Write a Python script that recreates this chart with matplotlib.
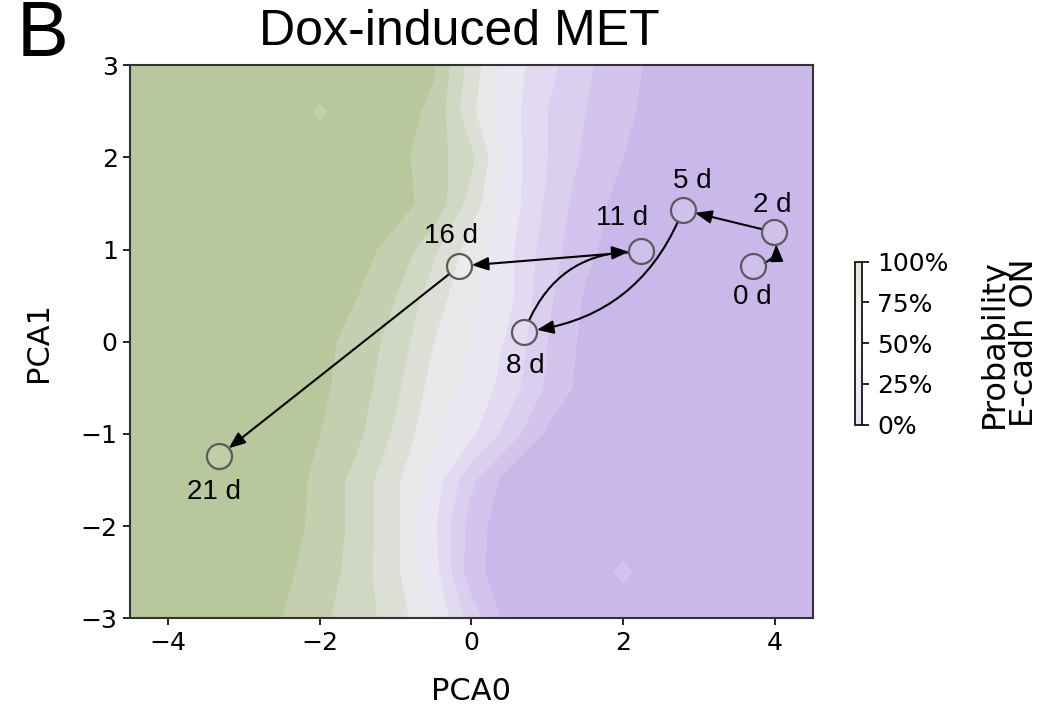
# PCA trajectory over a probability landscape
import numpy as np
import matplotlib
matplotlib.use("Agg")
import matplotlib.pyplot as plt
from matplotlib.colors import LinearSegmentedColormap

# probability (%) that E-cadh is ON on a 0.5 grid
pca0_grid = [-4.5, -4.0, -3.5, -3.0, -2.5, -2.0, -1.5, -1.0, -0.5, 0.0,
             0.5, 1.0, 1.5, 2.0, 2.5, 3.0, 3.5, 4.0, 4.5]
pca1_grid = [-3.0, -2.5, -2.0, -1.5, -1.0, -0.5, 0.0, 0.5, 1.0, 1.5, 2.0, 2.5, 3.0]
prob_on = [
    [100, 100, 100, 96, 90, 82, 75, 65, 50, 25, 5, 0, 0, 0, 0, 0, 0, 0, 0],    # y=-3
    [100, 100, 100, 98, 92, 86, 75, 62, 44, 14, 3, 0, 0, 13, 0, 0, 0, 0, 0],   # y=-2.5
    [100, 100, 100, 98, 93, 88, 76, 62, 42, 15, 3, 0, 0, 0, 0, 0, 0, 0, 0],    # y=-2
    [100, 100, 100, 98, 94, 88, 76, 62, 45, 22, 5, 1, 0, 0, 0, 0, 0, 0, 0],    # y=-1.5
    [100, 100, 100, 100, 95, 90, 82, 68, 52, 42, 25, 8, 3, 0, 0, 0, 0, 0, 0],  # y=-1
    [100, 100, 100, 100, 97, 92, 85, 72, 56, 47, 35, 18, 6, 0, 0, 0, 0, 0, 0], # y=-0.5
    [100, 100, 100, 100, 98, 93, 86, 76, 60, 50, 38, 20, 7, 2, 0, 0, 0, 0, 0], # y=0
    [100, 100, 100, 100, 98, 95, 90, 80, 65, 52, 42, 22, 9, 3, 0, 0, 0, 0, 0], # y=0.5
    [100, 100, 100, 100, 99, 96, 92, 88, 72, 55, 42, 25, 12, 6, 2, 0, 0, 0, 0],   # y=1
    [100, 100, 100, 100, 100, 98, 95, 92, 88, 65, 45, 28, 14, 7, 3, 0, 0, 0, 0],  # y=1.5
    [100, 100, 100, 100, 98, 97, 96, 93, 85, 72, 45, 30, 18, 10, 5, 2, 0, 0, 0],  # y=2
    [100, 100, 100, 100, 98, 88, 96, 94, 88, 62, 44, 30, 20, 12, 6, 3, 1, 0, 0],  # y=2.5
    [100, 100, 100, 100, 100, 98, 96, 95, 91, 65, 45, 33, 22, 13, 7, 4, 3, 2, 0], # y=3
]

# time points of the trajectory
day_labels = ["0 d", "2 d", "5 d", "8 d", "11 d", "16 d", "21 d"]
day_pca0 = [3.71, 3.99, 2.79, 0.70, 2.24, -0.16, -3.33]
day_pca1 = [0.82, 1.19, 1.43, 0.11, 0.98, 0.82, -1.24]

# label offsets (points) for each day
label_dx = [0, -1.5, 7, 0.7, -14, -6, -3.5]
label_dy = [-22, 19.5, 21, -25, 24, 21.5, -26]

# arrows: from index, to index, curvature
arrow_from = [0, 1, 2, 3, 4, 5]
arrow_to = [1, 2, 3, 4, 5, 6]
arrow_rad = [0.6, 0.0, -0.3, -0.35, 0.0, 0.0]

cmap = LinearSegmentedColormap.from_list(
    "ecadh", ["#c6b3e9", "#eeebf3", "#b3c393"])

fig = plt.figure(figsize=(10.58, 7.09), dpi=100)
ax = fig.add_axes([0.123, 0.128, 0.645, 0.780])

X, Y = np.meshgrid(pca0_grid, pca1_grid)
levels = np.linspace(0, 100, 11)
cs = ax.contourf(X, Y, np.array(prob_on), levels=levels, cmap=cmap)

ax.scatter(day_pca0, day_pca1, s=324, facecolors=(1, 1, 1, 0.12),
           edgecolors="#5a5a5a", linewidths=1.6, zorder=4)

for i, j, r in zip(arrow_from, arrow_to, arrow_rad):
    ax.annotate("", xy=(day_pca0[j], day_pca1[j]), xytext=(day_pca0[i], day_pca1[i]),
                arrowprops=dict(arrowstyle="-|>,head_length=0.5,head_width=0.2",
                                color="black", lw=1.5,
                                mutation_scale=20, shrinkA=9, shrinkB=9,
                                connectionstyle="arc3,rad=%s" % r),
                zorder=3)

for k in range(len(day_labels)):
    ax.annotate(day_labels[k], (day_pca0[k], day_pca1[k]),
                xytext=(label_dx[k], label_dy[k]), textcoords="offset points",
                ha="center", va="center", fontsize=20, family="Liberation Sans")

ax.set_xlim(-4.5, 4.5)
ax.set_ylim(-3, 3)
ax.set_xticks([-4, -2, 0, 2, 4])
ax.set_yticks([-3, -2, -1, 0, 1, 2, 3])
ax.tick_params(labelsize=18, length=5, width=1.2, pad=4)
ax.set_xlabel("PCA0", fontsize=22, labelpad=16)
ax.set_ylabel("PCA1", fontsize=22, labelpad=20)
for s in ax.spines.values():
    s.set_linewidth(1.5)
    s.set_color("#333333")

# colorbar
cax = fig.add_axes([0.808, 0.401, 0.0066, 0.230])
sm = plt.cm.ScalarMappable(cmap=cmap, norm=plt.Normalize(0, 100))
cb = fig.colorbar(sm, cax=cax, ticks=[0, 25, 50, 75, 100])
cb.solids.set_alpha(0.4)
cb.ax.set_yticklabels(["0%", "25%", "50%", "75%", "100%"])
cb.ax.tick_params(labelsize=18, length=5, width=1.2, pad=6)
cb.outline.set_linewidth(1.2)
cb.set_label("Probability\nE-cadh ON", fontsize=23, labelpad=22, linespacing=0.95)

fig.text(0.434, 0.937, "Dox-induced MET", fontsize=36, family="Liberation Sans",
         ha="center", va="baseline")
fig.text(0.016, 0.921, "B", fontsize=56, family="Liberation Sans",
         ha="left", va="baseline")

fig.savefig("out.png", dpi=100)
